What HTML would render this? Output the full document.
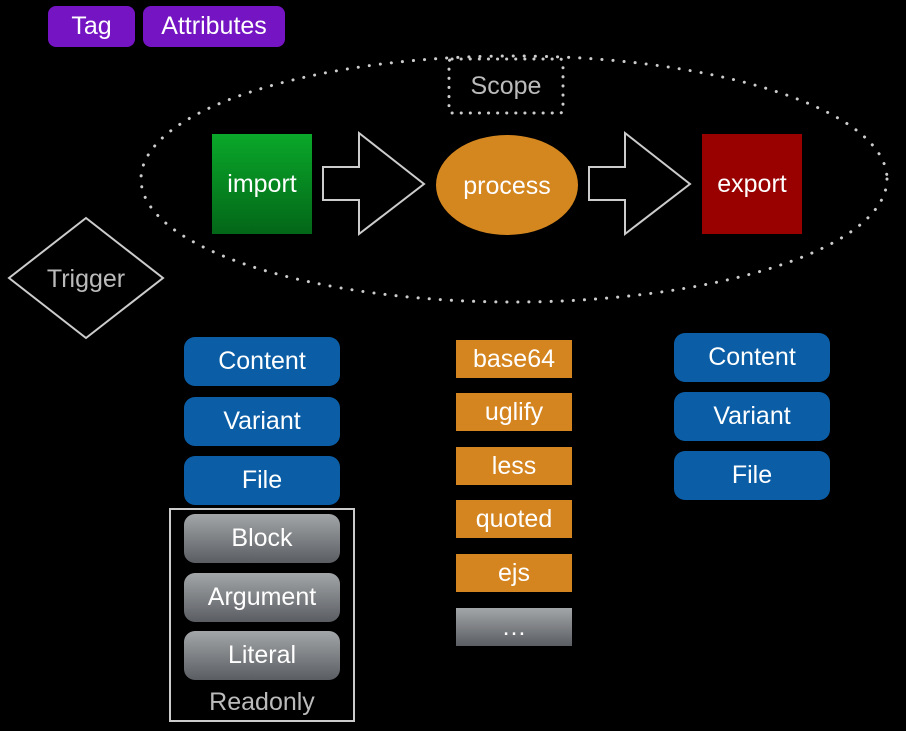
<!DOCTYPE html>
<html><head><style>
body{margin:0;width:906px;height:731px;background:#000;overflow:hidden;position:relative;font-family:"Liberation Sans",sans-serif;}
.a{position:absolute;display:flex;align-items:center;justify-content:center;color:#fff;box-sizing:border-box;}
.p{background:#7414c2;border-radius:8px;font-size:25px;}
.b{background:#0b5ea6;border-radius:11px;font-size:25px;left:184px;width:156px;}
.g{background:linear-gradient(#a3a6a8,#5a5d62);border-radius:11px;font-size:25px;left:184px;width:156px;}
.o{background:#d4851f;font-size:25px;left:456px;width:116px;height:38px;}
</style></head><body>
<svg width="906" height="731" style="position:absolute;left:0;top:0">
<ellipse cx="514" cy="179" rx="373" ry="123" fill="none" stroke="#ccc" stroke-width="3" stroke-dasharray="0.1 11" stroke-linecap="round"/>
<rect x="449" y="59" width="114" height="54" rx="3" fill="none" stroke="#ccc" stroke-width="3" stroke-dasharray="0.1 9" stroke-linecap="round"/>
<polygon points="323,167 359,167 359,133 424,184 359,234 359,200 323,200" fill="none" stroke="#ccc" stroke-width="2"/>
<polygon points="589,167 625,167 625,133 690,184 625,234 625,200 589,200" fill="none" stroke="#ccc" stroke-width="2"/>
<ellipse cx="507" cy="185" rx="71" ry="50" fill="#d4861f"/>
<polygon points="86,218 163,278 86,338 9,278" fill="none" stroke="#ccc" stroke-width="2"/>
<rect x="170" y="509" width="184" height="212" fill="none" stroke="#ccc" stroke-width="2"/>
<text x="86" y="287" fill="#bbb" font-size="25" text-anchor="middle" font-family="Liberation Sans">Trigger</text>
<text x="506" y="94" fill="#bbb" font-size="25" text-anchor="middle" font-family="Liberation Sans">Scope</text>
<text x="507" y="194" fill="#fff" font-size="25" text-anchor="middle" font-family="Liberation Sans">process</text>
<text x="262" y="710" fill="#bbb" font-size="25" text-anchor="middle" font-family="Liberation Sans">Readonly</text>
</svg>
<div class="a p" style="left:48px;top:6px;width:87px;height:41px">Tag</div>
<div class="a p" style="left:143px;top:6px;width:142px;height:41px">Attributes</div>
<div class="a" style="left:212px;top:134px;width:100px;height:100px;background:linear-gradient(#0aa82a,#036618);font-size:25px">import</div>
<div class="a" style="left:702px;top:134px;width:100px;height:100px;background:#990000;font-size:25px">export</div>
<div class="a b" style="top:337px;height:49px">Content</div>
<div class="a b" style="top:397px;height:49px">Variant</div>
<div class="a b" style="top:456px;height:49px">File</div>
<div class="a b" style="left:674px;top:333px;height:49px">Content</div>
<div class="a b" style="left:674px;top:392px;height:49px">Variant</div>
<div class="a b" style="left:674px;top:451px;height:49px">File</div>
<div class="a g" style="top:514px;height:49px">Block</div>
<div class="a g" style="top:573px;height:49px">Argument</div>
<div class="a g" style="top:631px;height:49px">Literal</div>
<div class="a o" style="top:340px">base64</div>
<div class="a o" style="top:393px">uglify</div>
<div class="a o" style="top:447px">less</div>
<div class="a o" style="top:500px">quoted</div>
<div class="a o" style="top:554px">ejs</div>
<div class="a o" style="top:608px;background:linear-gradient(#a3a6a8,#5a5d62)">…</div>
</body></html>
